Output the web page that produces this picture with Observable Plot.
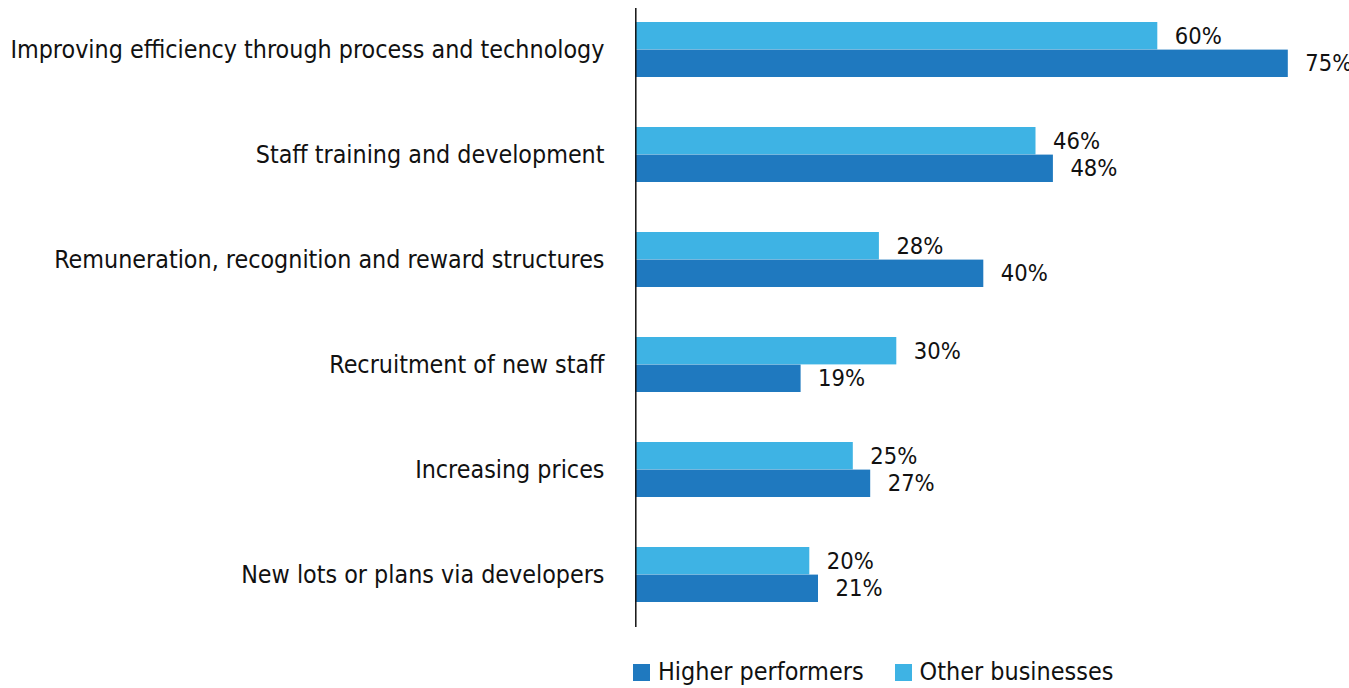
<!DOCTYPE html>
<html>
<head>
<meta charset="utf-8">
<script src="https://cdn.jsdelivr.net/npm/d3@7"></script>
<script src="https://cdn.jsdelivr.net/npm/@observablehq/plot@0.6"></script>
<style>
  html, body { margin: 0; padding: 0; background: #fff; }
  body { width: 1349px; height: 688px; overflow: hidden; font-family: "Liberation Sans Narrow", "DejaVu Sans Condensed", Roboto, sans-serif; color: #111; }
  #legend { display: flex; align-items: center; margin-top: 17px; padding-left: 633px; line-height: 30px; font-size: 24.9px; }
  .sw { width: 17px; height: 17px; display: inline-block; margin-right: 8px; }
  .item { display: flex; align-items: center; margin-right: 31px; }
</style>
</head>
<body>
<div id="chart"></div>
<div id="legend"></div>
<script>
const categories = [
  "Improving efficiency through process and technology",
  "Staff training and development",
  "Remuneration, recognition and reward structures",
  "Recruitment of new staff",
  "Increasing prices",
  "New lots or plans via developers"
];
const otherBusinesses = [60, 46, 28, 30, 25, 20];
const higherPerformers = [75, 48, 40, 19, 27, 21];
const seriesNames = ["Higher performers", "Other businesses"];
const seriesColors = ["#1f79bf", "#3eb3e4"];

const otherData = categories.map((c, i) => ({category: c, value: otherBusinesses[i]}));
const higherData = categories.map((c, i) => ({category: c, value: higherPerformers[i]}));

const half = 27.6;
const fontFamily = '"Liberation Sans Narrow", "DejaVu Sans Condensed", Roboto, sans-serif';

const chart = Plot.plot({
  width: 1349,
  height: 640,
  marginTop: 8,
  marginBottom: 13,
  marginLeft: 635,
  marginRight: 0,
  style: {fontFamily, fontSize: "24.8px", color: "#111", background: "white"},
  x: {domain: [0, 75], range: [635.3, 1287.8], axis: null},
  y: {domain: categories, range: [21.8, 602.5], paddingInner: 0.4767, paddingOuter: 0, label: null, tickSize: 0, tickPadding: 31},
  marks: [
    Plot.barX(otherData, {x: "value", y: "category", fill: seriesColors[1], insetBottom: half}),
    Plot.barX(higherData, {x: "value", y: "category", fill: seriesColors[0], insetTop: half}),
    Plot.text(otherData, {x: "value", y: "category", text: d => d.value + "%", textAnchor: "start", dx: 17, dy: -half / 2, fill: "#111", fontSize: 23.5}),
    Plot.text(higherData, {x: "value", y: "category", text: d => d.value + "%", textAnchor: "start", dx: 17, dy: half / 2, fill: "#111", fontSize: 23.5}),
    Plot.ruleX([0], {stroke: "#111", strokeWidth: 1.5})
  ]
});
document.getElementById("chart").appendChild(chart);

const legend = document.getElementById("legend");
seriesNames.forEach((name, i) => {
  const item = document.createElement("span");
  item.className = "item";
  const sw = document.createElement("span");
  sw.className = "sw";
  sw.style.background = seriesColors[i];
  item.appendChild(sw);
  item.appendChild(document.createTextNode(name));
  legend.appendChild(item);
});
</script>
</body>
</html>
